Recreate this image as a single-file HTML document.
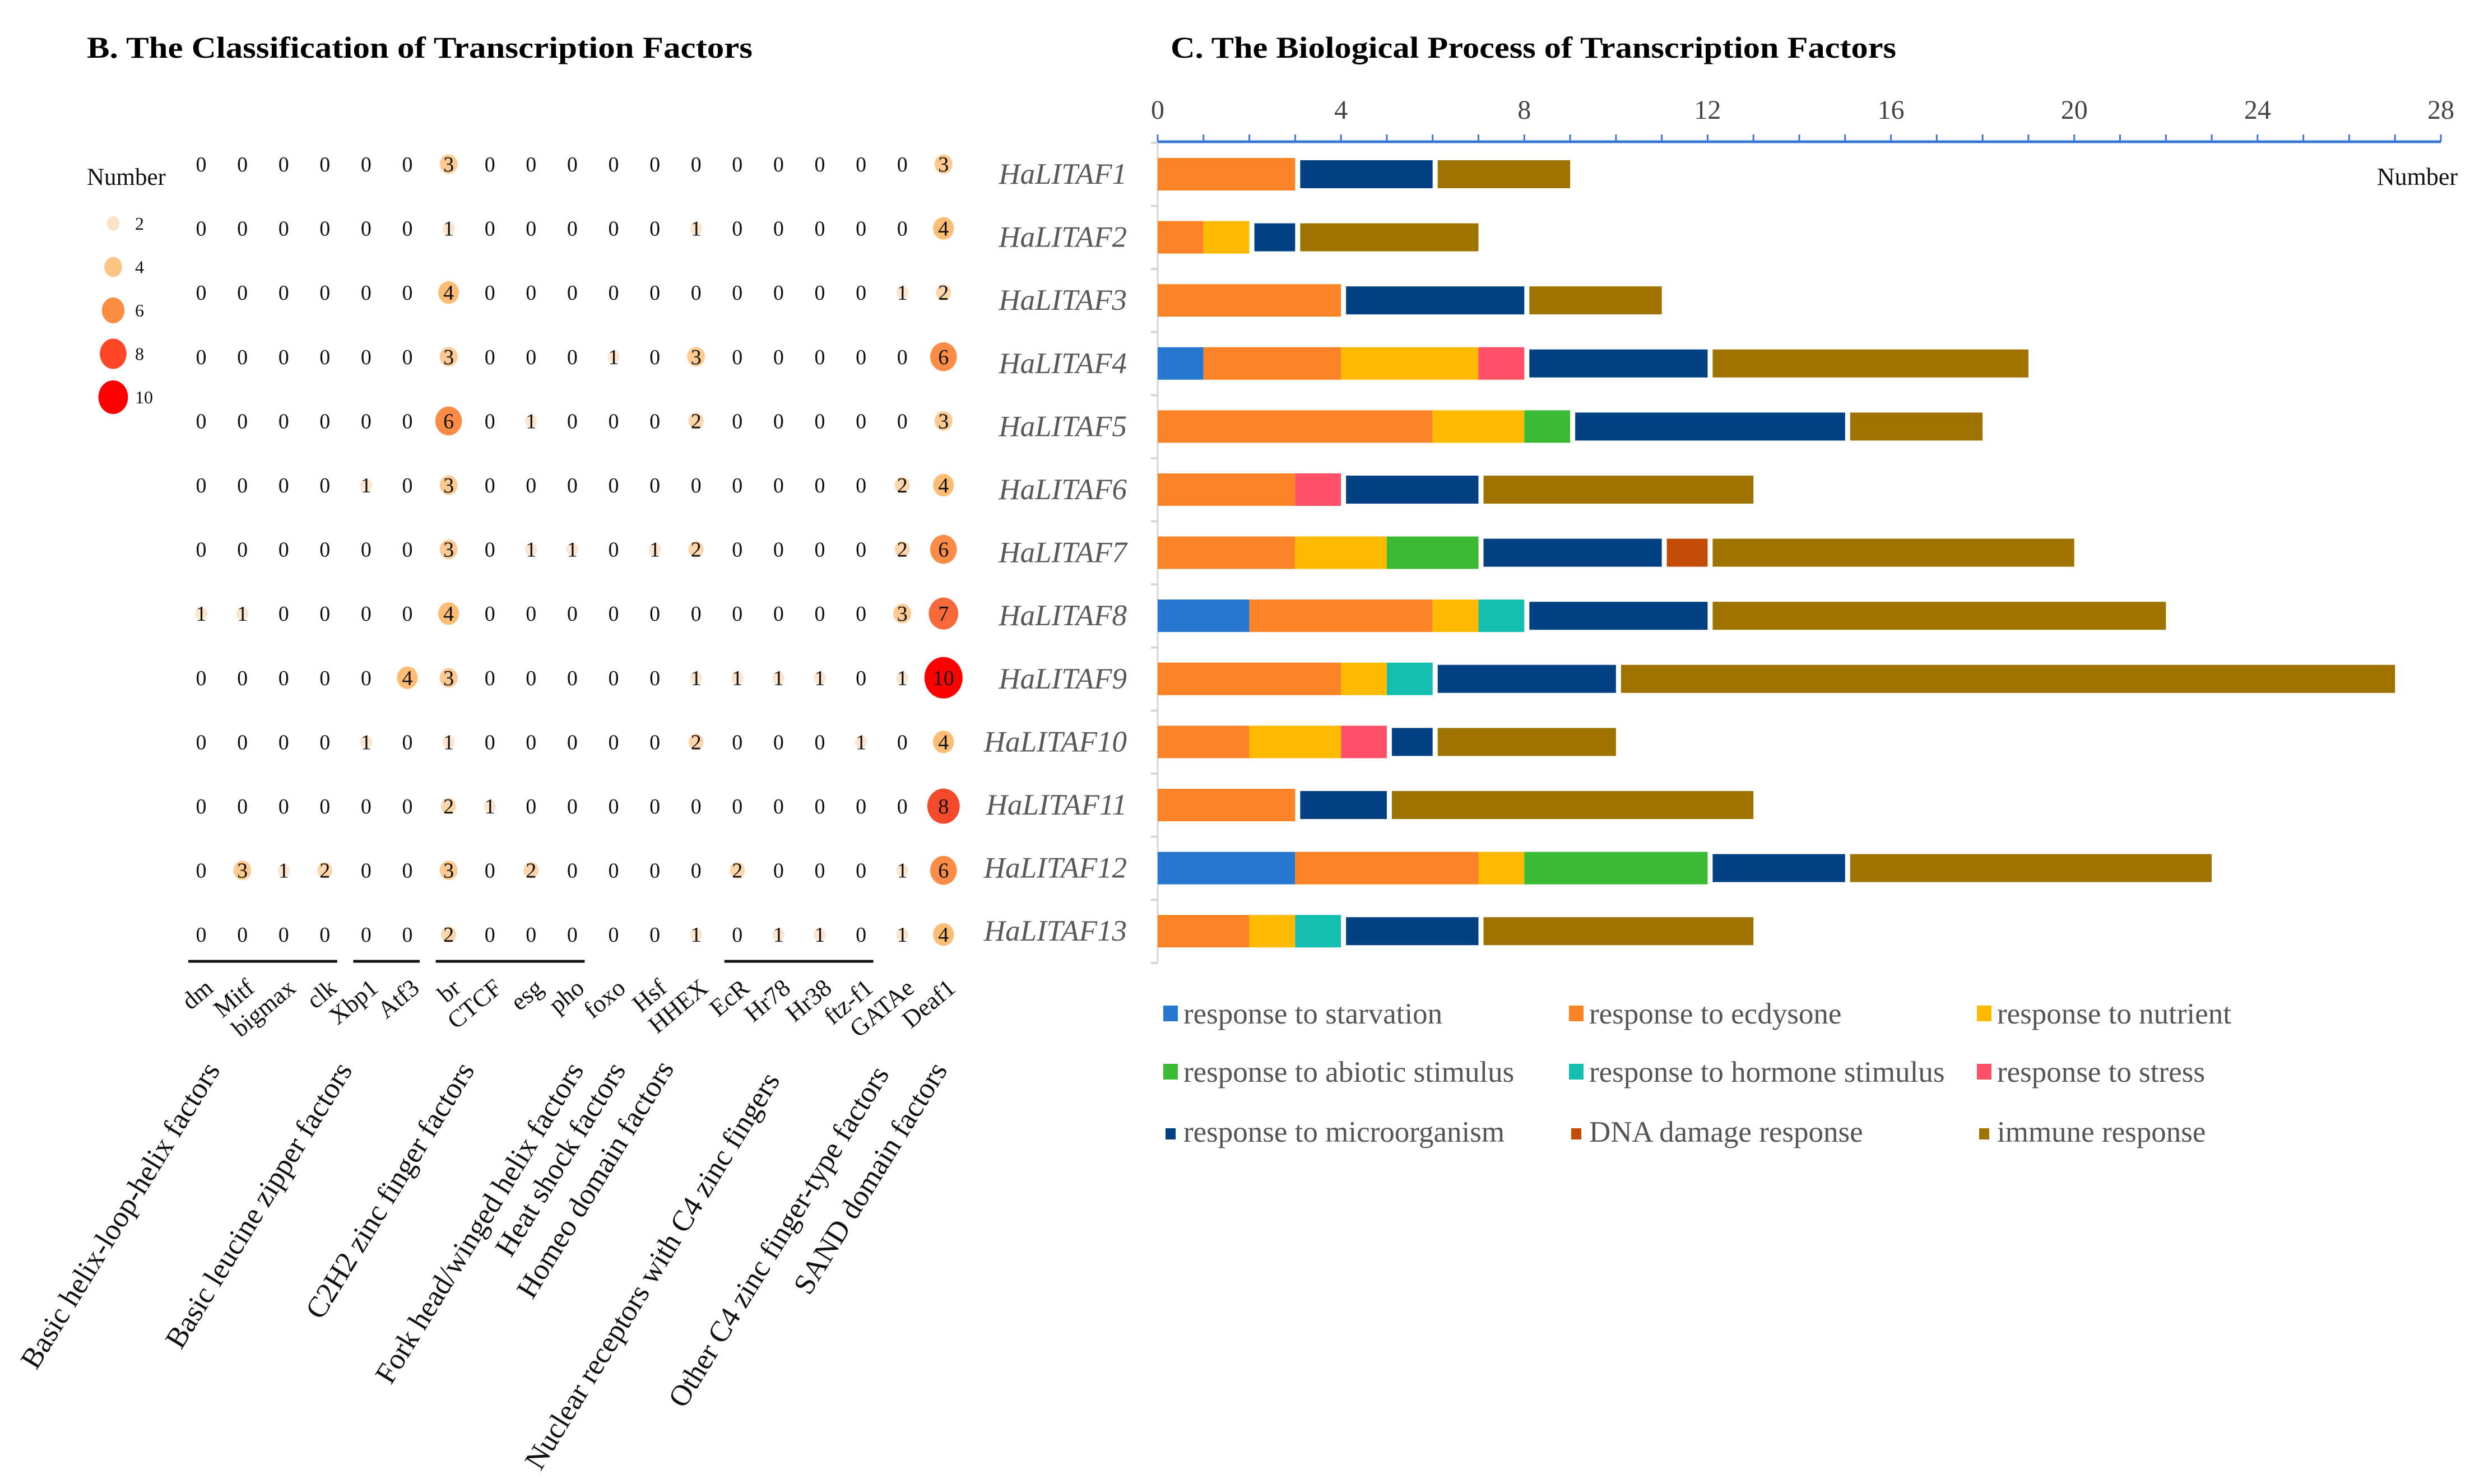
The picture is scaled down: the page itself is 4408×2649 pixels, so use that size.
<!DOCTYPE html>
<html><head><meta charset="utf-8"><style>
html,body{margin:0;padding:0;background:#fff}
svg{display:block}
text{font-family:"Liberation Serif",serif}
</style></head><body>
<svg id="fig" xmlns="http://www.w3.org/2000/svg" width="4408" height="2649" viewBox="0 0 4408 2649">
<rect width="4408" height="2649" fill="#fff"/>
<text x="155" y="103" font-size="54" font-weight="bold" textLength="1188" lengthAdjust="spacingAndGlyphs">B.  The Classification of Transcription Factors</text>
<text x="2089" y="103" font-size="54" font-weight="bold" textLength="1295" lengthAdjust="spacingAndGlyphs">C. The Biological Process of Transcription Factors</text>
<g id="bubble"></g>
<g id="bars"></g>
</svg>
<script>
// ---------- Panel B data ----------
const genes = ["dm","Mitf","bigmax","clk","Xbp1","Atf3","br","CTCF","esg","pho","foxo","Hsf","HHEX","EcR","Hr78","Hr38","ftz-f1","GATAe","Deaf1"];
const rowNames = ["HaLITAF1","HaLITAF2","HaLITAF3","HaLITAF4","HaLITAF5","HaLITAF6","HaLITAF7","HaLITAF8","HaLITAF9","HaLITAF10","HaLITAF11","HaLITAF12","HaLITAF13"];
const countsR1 = [0,0,0,0,0,0,3,0,0,0,0,0,0,0,0,0,0,0,3];
const countsR2 = [0,0,0,0,0,0,1,0,0,0,0,0,1,0,0,0,0,0,4];
const countsR3 = [0,0,0,0,0,0,4,0,0,0,0,0,0,0,0,0,0,1,2];
const countsR4 = [0,0,0,0,0,0,3,0,0,0,1,0,3,0,0,0,0,0,6];
const countsR5 = [0,0,0,0,0,0,6,0,1,0,0,0,2,0,0,0,0,0,3];
const countsR6 = [0,0,0,0,1,0,3,0,0,0,0,0,0,0,0,0,0,2,4];
const countsR7 = [0,0,0,0,0,0,3,0,1,1,0,1,2,0,0,0,0,2,6];
const countsR8 = [1,1,0,0,0,0,4,0,0,0,0,0,0,0,0,0,0,3,7];
const countsR9 = [0,0,0,0,0,4,3,0,0,0,0,0,1,1,1,1,0,1,10];
const countsR10 = [0,0,0,0,1,0,1,0,0,0,0,0,2,0,0,0,1,0,4];
const countsR11 = [0,0,0,0,0,0,2,1,0,0,0,0,0,0,0,0,0,0,8];
const countsR12 = [0,3,1,2,0,0,3,0,2,0,0,0,0,2,0,0,0,1,6];
const countsR13 = [0,0,0,0,0,0,2,0,0,0,0,0,1,0,1,1,0,1,4];
const bubbleCounts = [countsR1,countsR2,countsR3,countsR4,countsR5,countsR6,countsR7,countsR8,countsR9,countsR10,countsR11,countsR12,countsR13];
const familyNames = ["Basic helix-loop-helix factors","Basic leucine zipper factors","C2H2 zinc finger factors","Fork head/winged helix factors","Heat shock factors","Homeo domain factors","Nuclear receptors with C4 zinc fingers","Other C4 zinc finger-type factors","SAND domain factors"];
const familyStart = [0,4,6,10,11,12,13,17,18];
const familyEnd = [3,5,9,10,11,12,16,17,18];
const legendSizes = [2,4,6,8,10];

// ---------- Panel C data ----------
const processNames = ["response to starvation","response to ecdysone","response to nutrient","response to abiotic stimulus","response to hormone stimulus","response to stress","response to microorganism","DNA damage response","immune response"];
const starvation = [0,0,0,1,0,0,0,2,0,0,0,3,0];
const ecdysone   = [3,1,4,3,6,3,3,4,4,2,3,4,2];
const nutrient   = [0,1,0,3,2,0,2,1,1,2,0,1,1];
const abiotic    = [0,0,0,0,1,0,2,0,0,0,0,4,0];
const hormone    = [0,0,0,0,0,0,0,1,1,0,0,0,1];
const stress     = [0,0,0,1,0,1,0,0,0,1,0,0,0];
const microorganism = [3,1,4,4,6,3,4,4,4,1,2,3,3];
const dnaDamage  = [0,0,0,0,0,0,1,0,0,0,0,0,0];
const immune     = [3,4,3,7,3,6,8,10,17,4,8,8,6];
const xTicks = [0,4,8,12,16,20,24,28];

const NS = "http://www.w3.org/2000/svg";
function mk(tag, attrs, parent){const e=document.createElementNS(NS,tag);for(const k in attrs)e.setAttribute(k,attrs[k]);parent.appendChild(e);return e;}

// ---------- Panel B drawing ----------
const gB = document.getElementById('bubble');
const colX = i => 359 + i*73.6;
const rowY = j => 293 + j*114.6;
const rad = v => 9 + 2.8*v;
function bubColor(v){
  const c = {1:"#fde6d0",2:"#fdd6ac",3:"#fdcb92",4:"#fdbd74",5:"#fca45c",6:"#fb8c48",7:"#f8683a",8:"#f44a2c",9:"#f82418",10:"#ff0000"};
  return c[v] || "#ff0000";
}
bubbleCounts.forEach((row,j)=>{
  row.forEach((v,i)=>{
    if(v>0){
      const c = mk('ellipse',{cx:colX(i),cy:rowY(j),rx:rad(v)*0.92,ry:rad(v),fill:bubColor(v)},gB);
      
      
    }
    const t = mk('text',{x:colX(i),y:rowY(j)+13,'font-size':38,'text-anchor':'middle',fill:'#111'},gB);
    t.textContent = v;
    
    
  });
});
// legend
const ln = mk('text',{x:155,y:330,'font-size':43,fill:'#111'},gB);
ln.textContent='Number';


legendSizes.forEach((s,k)=>{
  const y = 399 + k*77.5;
  const r = [13,18,23,27,30][k];
  const c = mk('ellipse',{cx:202,cy:y,rx:r*0.88,ry:r,fill:["#fde3c8","#fdc583","#fd8d43","#fe4626","#ff0000"][k]},gB);
  
  
  const t = mk('text',{x:241,y:y+11,'font-size':32,fill:'#111'},gB);
  t.textContent=s;
  
  
});
// group lines
familyStart.forEach((s,k)=>{
  const e = familyEnd[k];
  if(e>s){
    const l = mk('line',{x1:colX(s)-23,x2:colX(e)+22,y1:1716,y2:1716,stroke:'#111','stroke-width':5},gB);
    
    
  }
});
// gene labels
genes.forEach((g,i)=>{
  const x = colX(i)+24, y = 1768;
  const t = mk('text',{x:x,y:y,'font-size':44,'text-anchor':'end',transform:`rotate(-40 ${x} ${y})`,fill:'#111'},gB);
  t.textContent=g;
  
  
});
// family labels
const famEnds = [[394,1910],[630,1910],[848,1910],[1043,1910],[1118,1910],[1204,1907],[1393,1928],[1588,1917],[1692,1910]];
familyNames.forEach((f,k)=>{
  const [x,y] = famEnds[k];
  const t = mk('text',{x:x,y:y,'font-size':53,'text-anchor':'end',transform:`rotate(-58.5 ${x} ${y})`,fill:'#111'},gB);
  t.textContent=f;
  
  
});

// ---------- Panel C drawing ----------
const gC = document.getElementById('bars');
const X0 = 2066, XS = (4356-2066)/28;
const xs = v => X0 + v*XS;
const ys = j => 311 + j*112.6;
const colors = ["#2878d0","#fd8426","#fdba00","#3bbb33","#14bfb0","#fe5066","#034183","#c24b06","#9f7300"];
const series = [starvation,ecdysone,nutrient,abiotic,hormone,stress,microorganism,dnaDamage,immune];

// axis
const ax = mk('line',{x1:X0,x2:xs(28),y1:253,y2:253,stroke:'#3a78d4','stroke-width':5},gC);


for(let v=0; v<=28; v++){
  const tk = mk('line',{x1:xs(v),x2:xs(v),y1:240,y2:253,stroke:'#3a78d4','stroke-width':3},gC);
  
  
}
xTicks.forEach(v=>{
  const t = mk('text',{x:xs(v),y:212,'font-size':48,'text-anchor':'middle',fill:'#444'},gC);
  t.textContent=v;
  
  
});
const xn = mk('text',{x:4386,y:330,'font-size':44,'text-anchor':'end',fill:'#111'},gC);
xn.textContent='Number';


// category axis
const ya = mk('line',{x1:X0,x2:X0,y1:255,y2:1718,stroke:'#d6d6d6','stroke-width':3},gC);


for(let j=0;j<=rowNames.length;j++){
  const tk = mk('line',{x1:X0-12,x2:X0,y1:ys(j)-56,y2:ys(j)-56,stroke:'#d6d6d6','stroke-width':4},gC);
  
  
}
rowNames.forEach((n,j)=>{
  const t = mk('text',{x:2011,y:ys(j)+17,'font-size':53,'font-style':'italic','text-anchor':'end',fill:'#595959'},gC);
  t.textContent=n;
  
  
  let acc = 0;
  series.forEach((s,k)=>{
    const v = s[j];
    if(v<=0) return;
    const short = k>=6;
    const x1 = xs(acc) + (short ? 9 : 0);
    const x2 = xs(acc+v);
    const h = short ? 50 : 58;
    const r = mk('rect',{x:x1,y:ys(j)-h/2,width:Math.max(1,x2-x1),height:h,fill:colors[k]},gC);
    
    
    acc += v;
  });
});
// legend
const legX = [2076,2800,3528], legY = [1827,1931,2038];
processNames.forEach((p,k)=>{
  const cx = legX[k%3], by = legY[Math.floor(k/3)];
  const small = (k===6||k===7||k===8);
  const w = small?18:26, h = small?20:28;
  const sq = mk('rect',{x:cx+(small?4:0),y:by-(small?24:32),width:w,height:h,fill:colors[k]},gC);
  
  
  const t = mk('text',{x:cx+36,y:by,'font-size':53,fill:'#555'},gC);
  t.textContent=p;
  
  
});
</script>
</body></html>
